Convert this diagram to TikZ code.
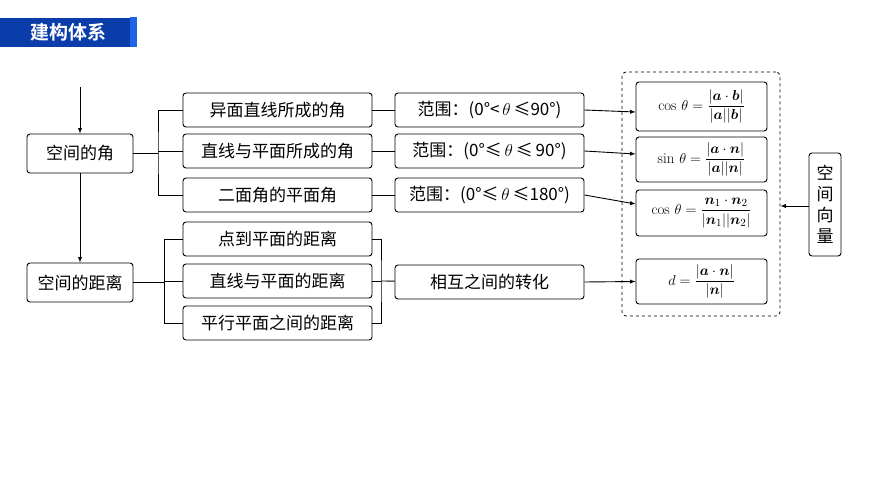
\documentclass[tikz,border=0pt]{standalone}
\usepackage{fontspec}
\newfontfamily\cjk{Noto Sans CJK SC}
\newfontfamily\cjkb{Noto Sans CJK SC Bold}
\usepackage{amsmath,bm}
\definecolor{hdA}{RGB}{10,60,170}
\definecolor{hdB}{RGB}{30,100,230}
\begin{document}
\begin{tikzpicture}[x=1pt,y=-1pt,
 bx/.style={draw,rounded corners=3pt,line width=0.9pt,inner sep=0pt,font=\cjk\fontsize{17}{17}\selectfont},
 fm/.style={bx,minimum width=131pt,font=\fontsize{15}{15}\selectfont},
 ln/.style={line width=0.9pt},
 ar/.style={line width=0.9pt,-latex}]
\useasboundingbox (0,0) rectangle (870,489);
\fill[hdA] (0,18) rectangle (130,47);
\fill[hdB] (130,17) rectangle (137,47);
\node[text=white,font=\cjkb\fontsize{19}{19}\selectfont] (hd) at (68,32.5) {建构体系};
% left
\node[bx,minimum width=106pt,minimum height=39pt] (ja) at (80,153.5) {空间的角};
\node[bx,minimum width=106pt,minimum height=39pt] (jl) at (80,282.5) {空间的距离};
\coordinate (top) at (80,87);
\draw[ar] (top) -- (ja);
\draw[ar] (ja) -- (jl);
% angle items
\foreach \n/\y/\t in {a1/110/异面直线所成的角,a2/151/直线与平面所成的角,a3/195/二面角的平面角,d1/239/点到平面的距离,d2/281/直线与平面的距离,d3/323/平行平面之间的距离}
 \node[bx,minimum width=189pt,minimum height=34pt] (\n) at (277.5,\y) {\t};
\draw[ln] (ja.east) -- (158,153.5);
\draw[ln] (a1.west) -| (158,153.5) |- (a3.west);
\draw[ln] (158,151) -- (a2.west);
\draw[ln] (jl.east) -- (165,282.5);
\draw[ln] (d1.west) -- ++(-18,0) |- (d3.west);
\draw[ln] (165,281) -- (d2.west);
\coordinate (rb) at (381,281);
\draw[ln] (d1.east) -| (rb) |- (d3.east);
\draw[ln] (d2.east) -- (rb);
% range
\node[bx,minimum width=189pt,minimum height=34pt] (r1) at (489.5,110) {范围：(0°<\,$\theta$\,≤90°)};
\node[bx,minimum width=189pt,minimum height=34pt] (r2) at (489.5,151) {范围：(0°≤\,$\theta$\,≤\,90°)};
\node[bx,minimum width=189pt,minimum height=34pt] (r3) at (489.5,195) {范围：(0°≤\,$\theta$\,≤180°)};
\node[bx,minimum width=189pt,minimum height=34pt] (r4) at (489.5,282) {相互之间的转化};
\foreach \a in {1,2,3} \draw[ln] (a\a) -- (r\a);
\draw[ln] (rb) -- (r4);
% formulas
\node[fm,minimum height=49pt] (f1) at (701.5,106.5) {$\cos\,\theta=\dfrac{|\bm a\cdot\bm b|}{|\bm a||\bm b|}$};
\node[fm,minimum height=45pt] (f2) at (701.5,159.5) {$\sin\,\theta=\dfrac{|\bm a\cdot\bm n|}{|\bm a||\bm n|}$};
\node[fm,minimum height=46pt] (f3) at (701.5,213) {$\cos\,\theta=\dfrac{\bm n_1\cdot\bm n_2}{|\bm n_1||\bm n_2|}$};
\node[fm,minimum height=45pt] (f4) at (701.5,281.5) {$d=\dfrac{|\bm a\cdot\bm n|}{|\bm n|}$};
\draw[ar] (r1.east) -- (f1.west |- 0,112);
\draw[ar] (r2.east) -- (f2.west |- 0,154);
\draw[ar] (r3.east) -- (f3.west |- 0,204);
\draw[ar] (r4.east) -- (f4.west);
\node[draw,dashed,rounded corners=4pt,line width=0.8pt,minimum width=158pt,minimum height=244pt] (dash) at (701,194) {};
\node[bx,minimum width=32pt,minimum height=103pt,align=center,font=\cjk\fontsize{17}{21}\selectfont] (kv) at (825,204.5) {空\\间\\向\\量};
\draw[ar] (kv.west |- 0,206) -- (dash.east |- 0,206);
\end{tikzpicture}
\end{document}
